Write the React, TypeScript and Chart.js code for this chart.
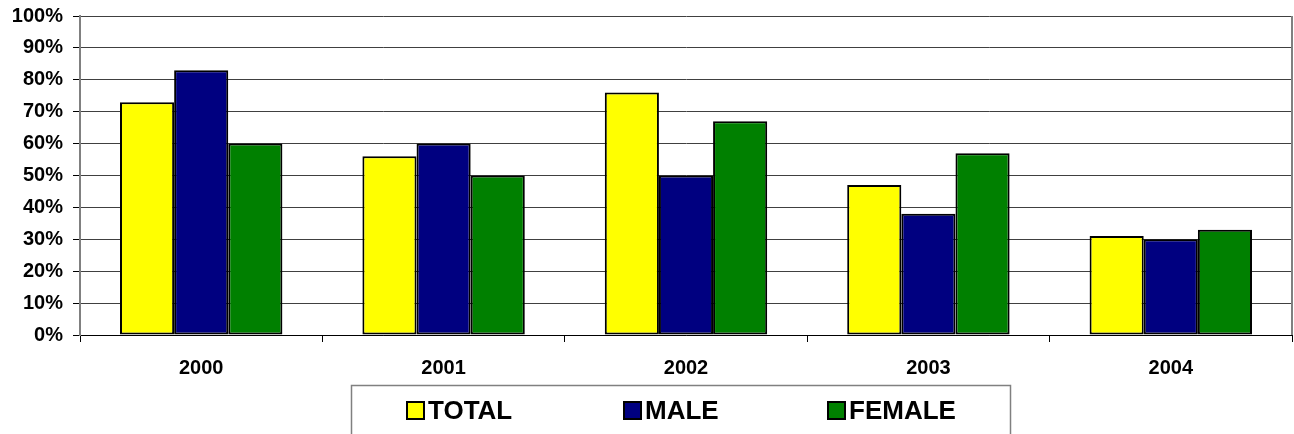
import React, { useEffect, useRef } from "react";
import { Chart, registerables } from "chart.js";

Chart.register(...registerables);

const categories = ["2000", "2001", "2002", "2003", "2004"];
const totalValues = [73, 56, 76, 47, 31];
const maleValues = [83, 60, 50, 38, 30];
const femaleValues = [60, 50, 67, 57, 33];
const seriesNames = ["TOTAL", "MALE", "FEMALE"];
const seriesColors = ["#FFFF00", "#000080", "#008000"];
const yTicks = [0, 10, 20, 30, 40, 50, 60, 70, 80, 90, 100];

const FONT = "Arial, 'Liberation Sans', sans-serif";

export default function App() {
  const ref = useRef<HTMLCanvasElement | null>(null);

  useEffect(() => {
    document.body.style.margin = "0";
    const canvas = ref.current;
    if (!canvas) return;

    const boxLegend = {
      id: "boxLegend",
      afterDraw(chart: any) {
        const ctx = chart.ctx;
        ctx.save();
        const ca = chart.chartArea;
        ctx.strokeStyle = "#808080";
        ctx.lineWidth = 2;
        ctx.beginPath();
        ctx.moveTo(ca.right, ca.top);
        ctx.lineTo(ca.right, ca.bottom);
        ctx.stroke();
        // legend box
        ctx.strokeStyle = "#808080";
        ctx.lineWidth = 1.5;
        ctx.strokeRect(351.5, 385.5, 659, 60);
        const items = [
          { x: 407, name: seriesNames[0], color: seriesColors[0] },
          { x: 624, name: seriesNames[1], color: seriesColors[1] },
          { x: 828, name: seriesNames[2], color: seriesColors[2] },
        ];
        ctx.font = "bold 26px " + FONT;
        ctx.textBaseline = "middle";
        ctx.textAlign = "left";
        for (const it of items) {
          ctx.fillStyle = it.color;
          ctx.fillRect(it.x, 402, 17, 17);
          ctx.strokeStyle = "#000";
          ctx.lineWidth = 2;
          ctx.strokeRect(it.x, 402, 17, 17);
          ctx.fillStyle = "#000";
          ctx.fillText(it.name, it.x + 21, 412);
        }
        ctx.restore();
      },
    };

    const chart = new Chart(canvas, {
      type: "bar",
      data: {
        labels: categories,
        datasets: [totalValues, maleValues, femaleValues].map((d, i) => ({
          label: seriesNames[i],
          data: d,
          backgroundColor: seriesColors[i],
          borderColor: "#000",
          borderWidth: 2,
          borderSkipped: false,
          categoryPercentage: 0.67,
          barPercentage: 1.0,
        })),
      },
      options: {
        animation: false,
        responsive: false,
        maintainAspectRatio: false,
        layout: { padding: { left: 0, right: 2, top: 16, bottom: 0 } },
        plugins: {
          legend: { display: false },
          tooltip: { enabled: false },
        },
        scales: {
          x: {
            grid: {
              display: true,
              drawOnChartArea: false,
              drawTicks: true,
              tickLength: 7,
              tickColor: "#000",
              offset: true,
            },
            border: { display: true, color: "#000", width: 1 },
            ticks: {
              color: "#000",
              font: { family: FONT, size: 20, weight: "bold" },
              padding: 14,
            },
            afterFit(scale: any) {
              scale.height = 99;
              scale.paddingLeft = 0;
              scale.paddingRight = 0;
            },
          },
          y: {
            min: 0,
            max: 100,
            afterBuildTicks(scale: any) {
              scale.ticks = yTicks.map((v) => ({ value: v }));
            },
            grid: {
              color: "#404040",
              lineWidth: 1,
              tickLength: 7,
              tickColor: "#000",
            },
            border: { display: true, color: "#808080", width: 2 },
            ticks: {
              color: "#000",
              font: { family: FONT, size: 20, weight: "bold" },
              padding: 10,
              callback: (v: any) => v + "%",
            },
            afterFit(scale: any) {
              scale.width = 80;
              scale.paddingTop = 0;
              scale.paddingBottom = 0;
            },
          },
        },
      },
      plugins: [boxLegend],
    });

    return () => chart.destroy();
  }, []);

  return (
    <div style={{ width: 1294, height: 434 }}>
      <canvas ref={ref} width={1294} height={434} style={{ display: "block" }} />
    </div>
  );
}
